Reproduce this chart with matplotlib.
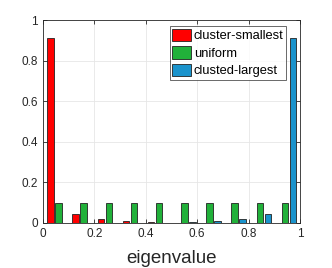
import numpy as np
import matplotlib
matplotlib.use('Agg')
import matplotlib.pyplot as plt

plt.rcParams['font.family'] = ['Liberation Sans', 'DejaVu Sans']

# bin centres of the histogram
bin_centers = [0.060, 0.158, 0.256, 0.354, 0.452, 0.550, 0.648, 0.746, 0.844, 0.942]
cluster_smallest = [0.913, 0.044, 0.020, 0.010, 0.005, 0.002, 0.002, 0.001, 0.001, 0.002]
uniform = [0.100, 0.100, 0.100, 0.100, 0.100, 0.100, 0.100, 0.100, 0.100, 0.100]
clusted_largest = [0.002, 0.001, 0.001, 0.002, 0.002, 0.005, 0.010, 0.020, 0.044, 0.913]

series_names = ['cluster-smallest', 'uniform', 'clusted-largest']
series_colors = ['#ff0000', '#21b13a', '#1a93cc']

fig = plt.figure(figsize=(3.32, 2.68), dpi=100)
ax = fig.add_axes([0.1295, 0.168, 0.774, 0.757])

x = np.array(bin_centers)
w = 0.025
off = 0.031
for i, (vals, name, col) in enumerate(zip([cluster_smallest, uniform, clusted_largest],
                                          series_names, series_colors)):
    ax.bar(x + (i - 1) * off, vals, width=w, color=col, edgecolor='#222222',
           linewidth=0.6, label=name, zorder=3)

ax.set_xlim(0, 1)
ax.set_ylim(0, 1)
ax.set_xticks([0, 0.2, 0.4, 0.6, 0.8, 1])
ax.set_xticklabels(['0', '0.2', '0.4', '0.6', '0.8', '1'])
ax.set_yticks([0, 0.2, 0.4, 0.6, 0.8, 1])
ax.set_yticklabels(['0', '0.2', '0.4', '0.6', '0.8', '1'])
ax.grid(True, color='#e6e6e6', linewidth=0.6, zorder=0)
ax.set_axisbelow(True)
ax.tick_params(direction='in', length=3, width=0.6, colors='#262626',
               labelsize=8.5, top=True, right=True, labeltop=False, labelright=False)
for sp in ax.spines.values():
    sp.set_color('#262626')
    sp.set_linewidth(0.6)
ax.set_xlabel('eigenvalue', fontsize=13.5, color='#262626', labelpad=7)

leg = ax.legend(loc='upper right', bbox_to_anchor=(0.946, 0.97), fontsize=9.3,
                frameon=True, fancybox=False, edgecolor='#262626',
                handlelength=1.4, handleheight=1.1, handletextpad=0.25,
                borderpad=0.2, labelspacing=0.3, borderaxespad=0.0)
leg.get_frame().set_linewidth(0.6)

fig.savefig('out.png', dpi=100)
